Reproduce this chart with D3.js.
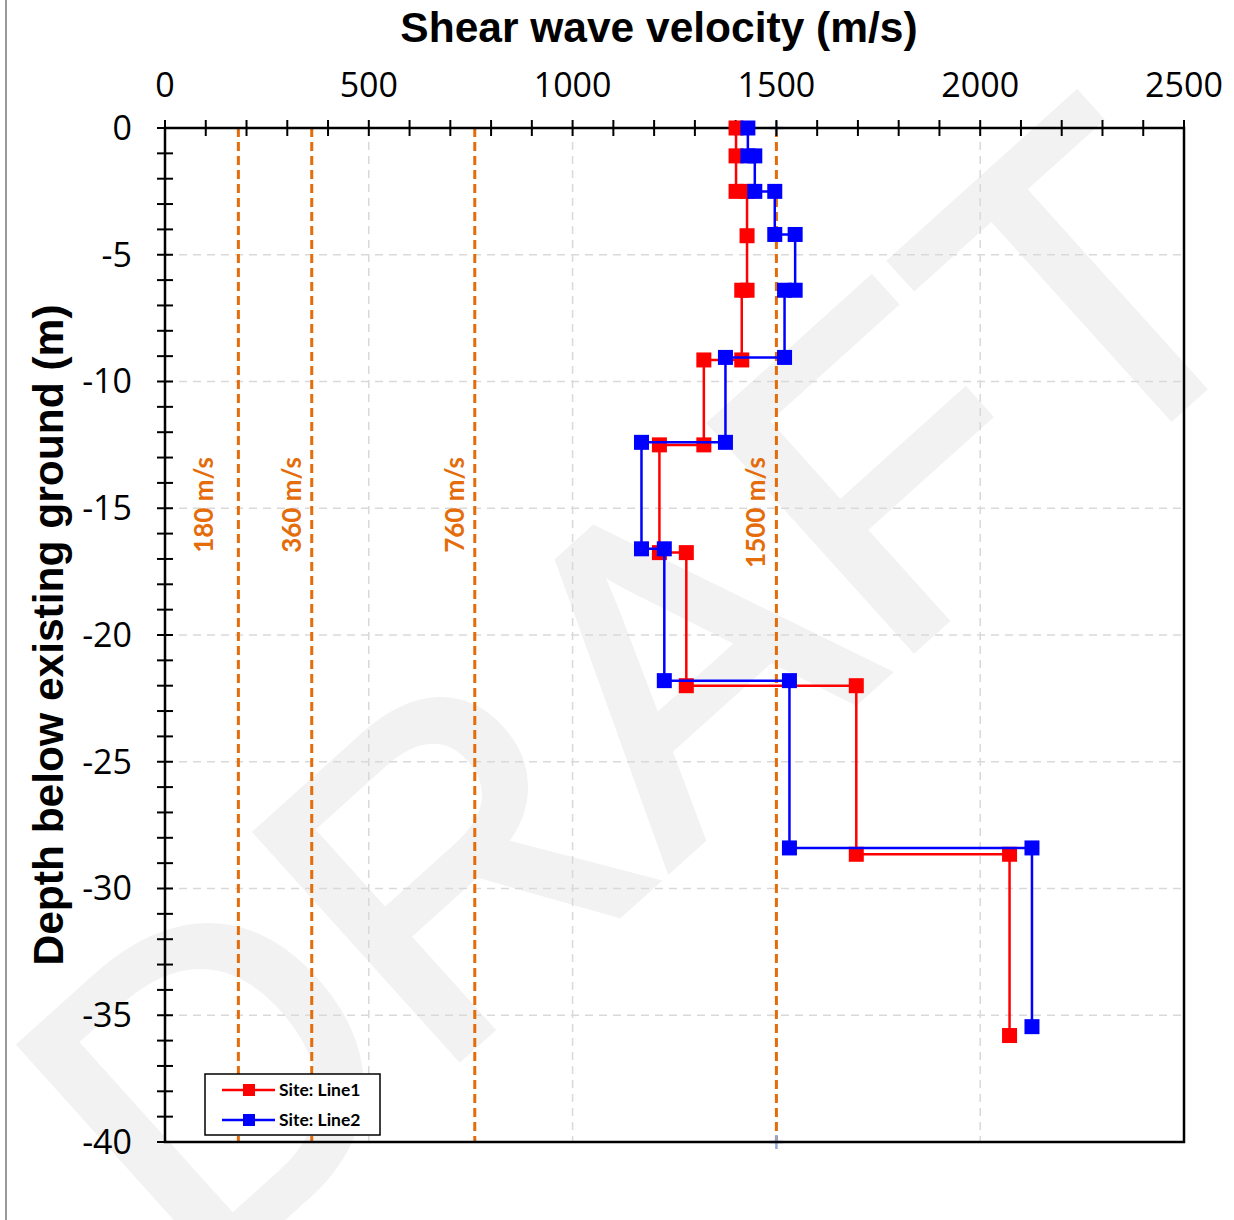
<!DOCTYPE html>
<html>
<head>
<meta charset="utf-8">
<script src="https://cdn.jsdelivr.net/npm/d3@7"></script>
<style>
  body { margin: 0; background: #fff; }
  svg { display: block; }
</style>
</head>
<body>
<svg id="chart" width="1234" height="1220"></svg>
<script>
// ---- data ----
var line1Velocity = [1401, 1401, 1401, 1428, 1428, 1428, 1415, 1415, 1322, 1322, 1213, 1213, 1279, 1279, 1696, 1696, 2072, 2072];
var line1Depth    = [0, -1.1, -2.5, -2.5, -4.25, -6.4, -6.4, -9.15, -9.15, -12.5, -12.5, -16.75, -16.75, -22.0, -22.0, -28.65, -28.65, -35.8];

var line2Velocity = [1430, 1430, 1447, 1447, 1496, 1496, 1546, 1546, 1520, 1520, 1375, 1375, 1169, 1169, 1225, 1225, 1532, 1532, 2127, 2127];
var line2Depth    = [0, -1.1, -1.1, -2.5, -2.5, -4.2, -4.2, -6.4, -6.4, -9.05, -9.05, -12.4, -12.4, -16.6, -16.6, -21.8, -21.8, -28.4, -28.4, -35.45];

var refVelocities = [180, 360, 760, 1500];
var refLabels = ["180 m/s", "360 m/s", "760 m/s", "1500 m/s"];

var xTickValues = [0, 500, 1000, 1500, 2000, 2500];
var yTickValues = [0, -5, -10, -15, -20, -25, -30, -35, -40];

var seriesNames = ["Site: Line1", "Site: Line2"];
var seriesColors = ["#ff0000", "#0000ff"];

var svg = d3.select("#chart");

var x = d3.scaleLinear().domain([0, 2500]).range([165, 1184]);
var y = d3.scaleLinear().domain([0, -40]).range([128, 1142]);

// page border on the left
svg.append("line")
    .attr("x1", 6).attr("x2", 6).attr("y1", 0).attr("y2", 1220)
    .attr("stroke", "#9a9a9a").attr("stroke-width", 2);

// DRAFT watermark
svg.append("text")
    .attr("transform", "translate(640,690) rotate(-42)")
    .attr("text-anchor", "middle")
    .attr("dominant-baseline", "central")
    .style("font-family", "Liberation Sans, Arial, sans-serif")
    .style("font-size", "440px")
    .style("fill", "#f2f2f2")
    .style("stroke", "#f2f2f2")
    .style("stroke-width", 8)
    .text("DRAFT");

// gridlines
svg.append("g").attr("class", "grid")
    .selectAll("line").data(xTickValues.slice(1, -1))
  .enter().append("line")
    .attr("x1", function(d) { return x(d); })
    .attr("x2", function(d) { return x(d); })
    .attr("y1", y(0)).attr("y2", y(-40))
    .attr("stroke", "#d9d9d9").attr("stroke-width", 1.5)
    .attr("stroke-dasharray", "8,6");

svg.append("g").attr("class", "grid")
    .selectAll("line").data(yTickValues.slice(1, -1))
  .enter().append("line")
    .attr("y1", function(d) { return y(d); })
    .attr("y2", function(d) { return y(d); })
    .attr("x1", x(0)).attr("x2", x(2500))
    .attr("stroke", "#d9d9d9").attr("stroke-width", 1.5)
    .attr("stroke-dasharray", "8,6");

// reference velocity lines
var refColor = "#e46c0a";
svg.append("g")
    .selectAll("line").data(refVelocities)
  .enter().append("line")
    .attr("x1", function(d) { return x(d); })
    .attr("x2", function(d) { return x(d); })
    .attr("y1", y(0)).attr("y2", y(-40))
    .attr("stroke", refColor).attr("stroke-width", 3)
    .attr("stroke-dasharray", "9,5");

// labels sit left of each line, the 180 one a bit further out
svg.append("g")
    .selectAll("text").data(refVelocities)
  .enter().append("text")
    .attr("transform", function(d, i) {
      var gap = i === 0 ? 25 : 11;
      return "translate(" + (x(d) - gap) + ",457) rotate(-90)";
    })
    .attr("text-anchor", "end")
    .style("font-family", "Lato, 'Open Sans', sans-serif")
    .style("font-weight", "bold")
    .style("font-size", "26px")
    .style("fill", refColor)
    .text(function(d, i) { return refLabels[i]; });

// little plus markers at the ends of the 1500 line
[0, -40].forEach(function(dv) {
  svg.append("path")
      .attr("d", "M" + (x(1500) - 7) + "," + y(dv) + "h14M" + x(1500) + "," + (y(dv) - 7) + "v14")
      .attr("stroke", "#8faadc").attr("stroke-width", 2.5);
});

// frame
svg.append("rect")
    .attr("x", x(0)).attr("y", y(0))
    .attr("width", x(2500) - x(0)).attr("height", y(-40) - y(0))
    .attr("fill", "none").attr("stroke", "#000").attr("stroke-width", 2.5);

// top axis: minor ticks every 100 crossing the line
var xAxis = svg.append("g").attr("transform", "translate(0," + y(0) + ")");
xAxis.selectAll("line").data(d3.range(0, 2501, 100))
  .enter().append("line")
    .attr("x1", function(d) { return x(d); })
    .attr("x2", function(d) { return x(d); })
    .attr("y1", -8).attr("y2", 8)
    .attr("stroke", "#000").attr("stroke-width", 2);
xAxis.selectAll("text").data(xTickValues)
  .enter().append("text")
    .attr("x", function(d) { return x(d); })
    .attr("y", -31)
    .attr("text-anchor", "middle")
    .style("font-family", "'Open Sans', sans-serif")
    .style("font-size", "34px")
    .style("fill", "#000")
    .text(function(d) { return d; });

// left axis: ticks every 1 m
var yAxis = svg.append("g").attr("transform", "translate(" + x(0) + ",0)");
yAxis.selectAll("line").data(d3.range(0, -40.5, -1))
  .enter().append("line")
    .attr("y1", function(d) { return y(d); })
    .attr("y2", function(d) { return y(d); })
    .attr("x1", -8).attr("x2", 8)
    .attr("stroke", "#000").attr("stroke-width", 2);
yAxis.selectAll("text").data(yTickValues)
  .enter().append("text")
    .attr("x", -33)
    .attr("y", function(d) { return y(d); })
    .attr("dy", "0.35em")
    .attr("text-anchor", "end")
    .style("font-family", "'Open Sans', sans-serif")
    .style("font-size", "34px")
    .style("fill", "#000")
    .text(function(d) { return d; });

// axis titles
svg.append("text")
    .attr("x", 659).attr("y", 42)
    .attr("text-anchor", "middle")
    .style("font-family", "Liberation Sans, Arial, sans-serif")
    .style("font-weight", "bold")
    .style("font-size", "42.5px")
    .text("Shear wave velocity (m/s)");

svg.append("text")
    .attr("transform", "translate(63,635) rotate(-90)")
    .attr("text-anchor", "middle")
    .style("font-family", "Liberation Sans, Arial, sans-serif")
    .style("font-weight", "bold")
    .style("font-size", "42.5px")
    .text("Depth below existing ground (m)");

// series
var series = [
  { v: line1Velocity, d: line1Depth },
  { v: line2Velocity, d: line2Depth }
];

var lineGen = d3.line()
    .x(function(p) { return x(p[0]); })
    .y(function(p) { return y(p[1]); });

series.forEach(function(s, si) {
  var pts = s.v.map(function(v, i) { return [v, s.d[i]]; });
  var g = svg.append("g").attr("class", "series-" + si);
  g.append("path")
      .attr("d", lineGen(pts))
      .attr("fill", "none")
      .attr("stroke", seriesColors[si])
      .attr("stroke-width", 2.5);
  g.selectAll("rect").data(pts)
    .enter().append("rect")
      .attr("x", function(p) { return x(p[0]) - 7.5; })
      .attr("y", function(p) { return y(p[1]) - 7.5; })
      .attr("width", 15).attr("height", 15)
      .attr("fill", seriesColors[si]);
});

// legend
var legend = svg.append("g").attr("transform", "translate(205,1074)");
legend.append("rect")
    .attr("width", 175).attr("height", 61)
    .attr("fill", "#fff").attr("stroke", "#000").attr("stroke-width", 1.5);
seriesNames.forEach(function(name, i) {
  var ly = 16 + i * 30;
  legend.append("line")
      .attr("x1", 17).attr("x2", 70).attr("y1", ly).attr("y2", ly)
      .attr("stroke", seriesColors[i]).attr("stroke-width", 2.5);
  legend.append("rect")
      .attr("x", 38).attr("y", ly - 6).attr("width", 12).attr("height", 12)
      .attr("fill", seriesColors[i]);
  legend.append("text")
      .attr("x", 74).attr("y", ly).attr("dy", "0.35em")
      .style("font-family", "Lato, 'Open Sans', sans-serif")
      .style("font-weight", "bold")
      .style("font-size", "17.5px")
      .text(name);
});
</script>
</body>
</html>
